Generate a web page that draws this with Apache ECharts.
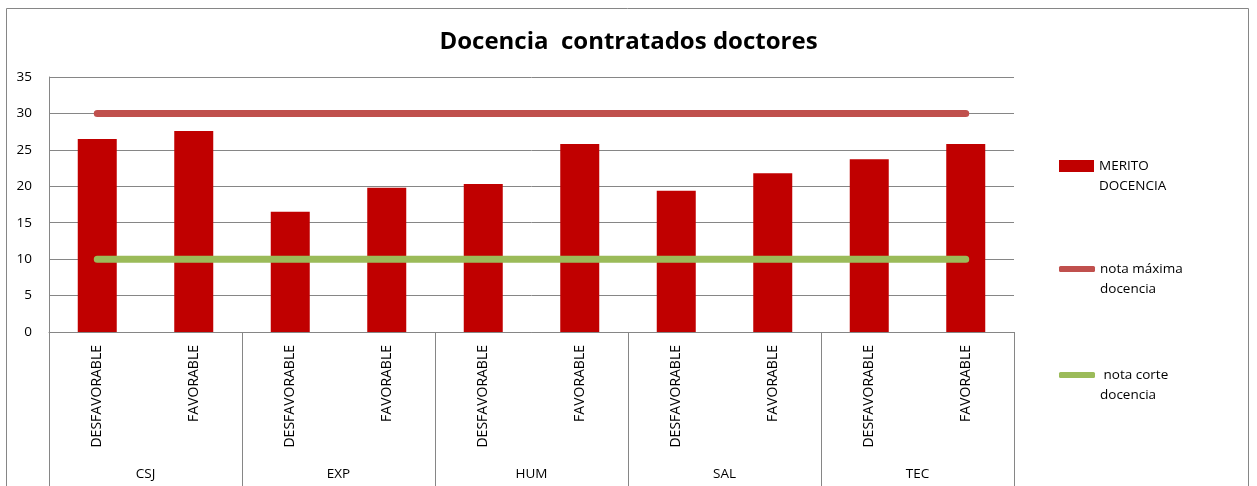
<!DOCTYPE html>
<html>
<head>
<meta charset="utf-8">
<script src="https://cdn.jsdelivr.net/npm/echarts@6/dist/echarts.min.js"></script>
<style>
  html, body { margin: 0; padding: 0; background: #fff; }
  #chart { width: 1257px; height: 486px; }
</style>
</head>
<body>
<div id="chart"></div>
<script>
// datos
const grupos = ['CSJ', 'EXP', 'HUM', 'SAL', 'TEC'];
const subcategorias = ['DESFAVORABLE', 'FAVORABLE'];
const meritoDocencia = [26.5, 27.6, 16.5, 19.8, 20.3, 25.8, 19.4, 21.8, 23.7, 25.8];
const notaMaxima = [30, 30, 30, 30, 30, 30, 30, 30, 30, 30];
const notaCorte = [10, 10, 10, 10, 10, 10, 10, 10, 10, 10];

// eje x de primer nivel: DESFAVORABLE / FAVORABLE por cada grupo
const categorias = [];
grupos.forEach(g => {
    subcategorias.forEach(s => categorias.push(s));
});

const fuente = '"Open Sans", "Noto Sans", sans-serif';
const gris = '#868686';
const textoLeyenda = { fontFamily: fuente, fontSize: 13.5, color: '#000', lineHeight: 20 };

var myChart = echarts.init(document.getElementById('chart'));

var option = {
    animation: false,
    title: {
        text: 'Docencia  contratados doctores',
        left: 'center',
        top: 25,
        textStyle: {
            fontFamily: fuente,
            fontWeight: 'bold',
            fontSize: 24,
            color: '#000'
        }
    },
    grid: {
        left: 49,
        right: 243,
        top: 77,
        bottom: 154
    },
    // leyendas separadas; la primera línea vacía deja el icono a la altura de la primera línea del texto
    legend: [
        {
            orient: 'vertical',
            left: 1054,
            top: 131,
            itemWidth: 35,
            itemHeight: 12,
            data: [{ name: 'MERITO DOCENCIA', icon: 'rect' }],
            formatter: () => '\u00a0\nMERITO\nDOCENCIA',
            textStyle: textoLeyenda
        },
        {
            orient: 'vertical',
            left: 1054,
            top: 234,
            itemWidth: 36,
            itemHeight: 6,
            data: [{ name: 'nota máxima docencia', icon: 'roundRect' }],
            formatter: () => '\u00a0\nnota máxima\ndocencia',
            textStyle: textoLeyenda
        },
        {
            orient: 'vertical',
            left: 1054,
            top: 340,
            itemWidth: 36,
            itemHeight: 6,
            data: [{ name: 'nota corte docencia', icon: 'roundRect' }],
            formatter: () => '\u00a0\n nota corte\ndocencia',
            textStyle: textoLeyenda
        }
    ],
    xAxis: [
        {
            type: 'category',
            data: categorias,
            axisLine: { lineStyle: { color: gris } },
            axisTick: { show: false },
            axisLabel: {
                interval: 0,
                rotate: 90,
                margin: 13,
                fontFamily: fuente,
                fontSize: 14,
                color: '#000'
            }
        },
        {
            type: 'category',
            position: 'bottom',
            data: grupos,
            axisLine: { show: false },
            axisTick: {
                show: true,
                length: 154,
                lineStyle: { color: gris }
            },
            axisLabel: {
                interval: 0,
                margin: 135,
                fontFamily: fuente,
                fontSize: 13.5,
                color: '#000'
            }
        }
    ],
    yAxis: {
        type: 'value',
        min: 0,
        max: 35,
        interval: 5,
        axisLine: { show: true, lineStyle: { color: gris } },
        axisTick: { show: false },
        splitLine: { lineStyle: { color: gris } },
        axisLabel: {
            margin: 17,
            fontFamily: fuente,
            fontSize: 13.5,
            color: '#000'
        }
    },
    series: [
        {
            name: 'MERITO DOCENCIA',
            type: 'bar',
            xAxisIndex: 0,
            data: meritoDocencia,
            barWidth: 39,
            itemStyle: { color: '#c00000' }
        },
        {
            name: 'nota máxima docencia',
            type: 'line',
            xAxisIndex: 0,
            data: notaMaxima,
            symbol: 'none',
            lineStyle: { color: '#c0504d', width: 7, cap: 'round' },
            itemStyle: { color: '#c0504d' }
        },
        {
            name: 'nota corte docencia',
            type: 'line',
            xAxisIndex: 0,
            data: notaCorte,
            symbol: 'none',
            lineStyle: { color: '#9bbb59', width: 7, cap: 'round' },
            itemStyle: { color: '#9bbb59' }
        }
    ],
    // borde del área del gráfico
    graphic: [
        {
            type: 'polyline',
            shape: { points: [[6.5, 500], [6.5, 8.5], [1248.5, 8.5], [1248.5, 500]] },
            style: { stroke: gris, lineWidth: 1, fill: null },
            silent: true
        }
    ]
};

myChart.setOption(option);
</script>
</body>
</html>
